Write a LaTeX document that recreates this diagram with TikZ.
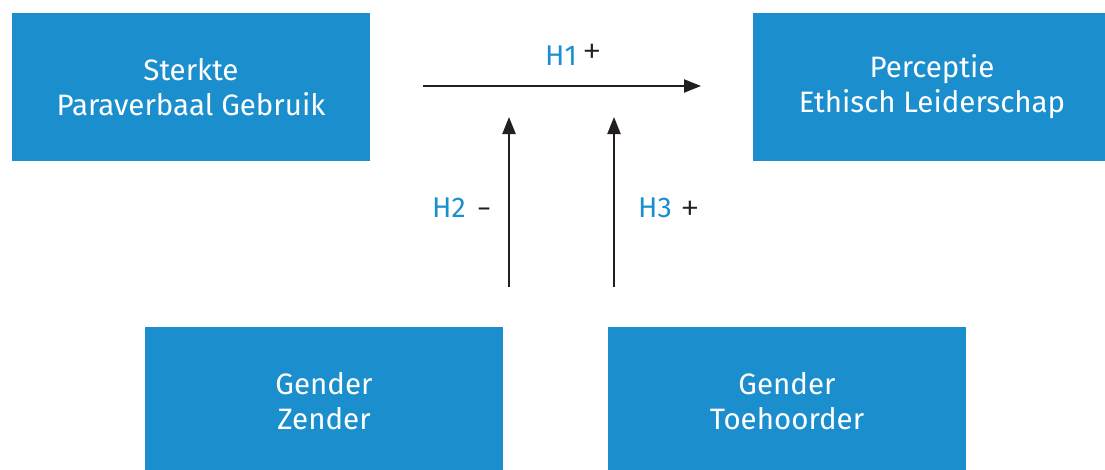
\documentclass[tikz,border=0pt]{standalone}
\usepackage{fontspec}
\setmainfont{Fira Sans}
\usetikzlibrary{arrows.meta}
\definecolor{boxblue}{RGB}{27,142,206}
\definecolor{arrowdark}{RGB}{35,31,32}
\begin{document}
\begin{tikzpicture}[x=1pt,y=-1pt,
  box/.style={fill=boxblue, draw=none, minimum width=358pt, minimum height=148pt, inner sep=0pt,
    text=white, align=center, font=\fontsize{29.5}{35}\selectfont},
  conn/.style={draw=arrowdark, line width=2.2pt, -{Triangle[length=17pt,width=13pt]}},
  hlab/.style={font=\fontsize{28.5}{32}\selectfont, inner sep=0pt, anchor=base west},
  sign/.style={font=\fontsize{40}{40}\selectfont\fontspec{Fira Sans Light}, inner sep=0pt, anchor=base west, text=arrowdark}
]
\useasboundingbox (0,0) rectangle (1105,469);
\begin{scope}
\clip (0,0) rectangle (1105,469);
\node[box] (sterkte) at (191,87) {Sterkte\\Paraverbaal Gebruik};
\node[box] (perceptie) at (932,87) {Perceptie\\Ethisch Leiderschap};
\node[box] (zender) at (324,401) {Gender\\Zender};
\node[box] (toehoorder) at (787,401) {Gender\\Toehoorder};
\end{scope}
\coordinate (h1s) at (423,86);
\coordinate (h1e) at (701,86);
\coordinate (h2s) at (509,287);
\coordinate (h2e) at (509,117);
\coordinate (h3s) at (614,287);
\coordinate (h3e) at (614,117);
\draw[conn] (h1s) -- (h1e);
\draw[conn] (h2s) -- (h2e);
\draw[conn] (h3s) -- (h3e);
\node[hlab, text=boxblue] (h1) at (545,65) {H1};
\node[sign] (h1p) at (582,64) {+};
\node[hlab, text=boxblue] (h2) at (432,217) {H2};
\node[sign] (h2m) at (476,221) {-};
\node[hlab, text=boxblue] (h3) at (638,217) {H3};
\node[sign] (h3p) at (680,221) {+};
\end{tikzpicture}
\end{document}
